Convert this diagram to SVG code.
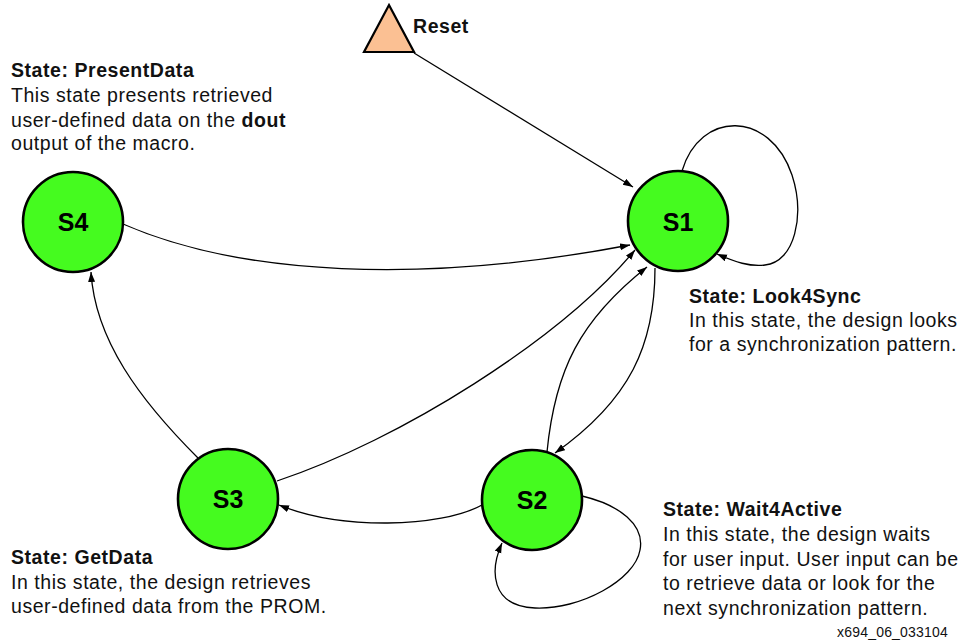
<svg xmlns="http://www.w3.org/2000/svg" width="965" height="643" viewBox="0 0 965 643">
  <style>
    .state { fill: #45fb1f; stroke: #000; stroke-width: 2.6; }
    .label { font-family: "Liberation Sans", Arial, sans-serif; font-weight: bold; font-size: 25px; fill: #000; text-anchor: middle; }
    .edge { fill: none; stroke: #000; stroke-width: 1.3; marker-end: url(#arrow); }
    .edge-plain { fill: none; stroke: #000; stroke-width: 1.3; }
    .note { font-family: "Liberation Sans", Arial, sans-serif; font-size: 19.5px; letter-spacing: 0.55px; fill: #111; }
    .note .title, .bold { font-weight: bold; }
    .tag { font-family: "Liberation Sans", Arial, sans-serif; font-size: 14px; letter-spacing: 0.2px; fill: #111; }
  </style>
  <defs>
    <marker id="arrow" markerUnits="userSpaceOnUse" markerWidth="11" markerHeight="8" refX="10" refY="3.5" orient="auto">
      <path d="M0,0 L10,3.5 L0,7 z" fill="#000"/>
    </marker>
  </defs>

  <rect width="965" height="643" fill="#fff"/>

  <!-- transitions -->
  <g id="connectors">
    <!-- Reset to S1 -->
    <path class="edge" d="M414,53 L633,187"/>
    <!-- S1 self loop -->
    <path class="edge" d="M682,171 C700,110 770,110 792,175 C805,215 795,262 765,265 C750,267 735,262 717,254"/>
    <!-- S4 to S1 -->
    <path class="edge" d="M123,224 C240,275 420,285 630,245"/>
    <!-- S3 to S1 -->
    <path class="edge" d="M277,481 C400,440 560,340 635,250"/>
    <!-- S2 to S1 -->
    <path class="edge" d="M547,452 C555,370 580,320 647,267"/>
    <!-- S1 to S2 -->
    <path class="edge" d="M655,268 C655,345 630,400 555,453"/>
    <!-- S2 to S3 -->
    <path class="edge" d="M482,505 C440,528 340,530 279,505"/>
    <!-- S3 to S4 -->
    <path class="edge" d="M198,458 C140,400 95,340 91,272"/>
    <!-- S2 self loop -->
    <path class="edge" d="M582,496 C620,505 645,525 640,550 C635,580 580,610 535,608 C490,606 490,570 502,543"/>
  </g>

  <!-- reset entry -->
  <g id="reset">
    <polygon points="389,5 414,52 364,52" fill="#fbc093" stroke="#000" stroke-width="2.2" stroke-linejoin="miter"/>
    <text x="413" y="33" class="note title" font-weight="bold">Reset</text>
  </g>

  <g id="S1">
    <circle class="state" cx="678" cy="221" r="50"/>
    <text class="label" x="678" y="231">S1</text>
  </g>
  <g id="S2">
    <circle class="state" cx="532" cy="500" r="50"/>
    <text class="label" x="532" y="509">S2</text>
  </g>
  <g id="S3">
    <circle class="state" cx="228" cy="499" r="50"/>
    <text class="label" x="228" y="508">S3</text>
  </g>
  <g id="S4">
    <circle class="state" cx="73" cy="222" r="50"/>
    <text class="label" x="73" y="231">S4</text>
  </g>

  <!-- state descriptions -->
  <g id="note-presentdata" class="note">
    <text x="11" y="77" class="bold">State: PresentData</text>
    <text x="11" y="102">This state presents retrieved</text>
    <text x="11" y="127">user-defined data on the <tspan class="bold">dout</tspan></text>
    <text x="11" y="150">output of the macro.</text>
  </g>
  <g id="note-look4sync" class="note">
    <text x="689" y="303" class="bold">State: Look4Sync</text>
    <text x="689" y="327">In this state, the design looks</text>
    <text x="689" y="351">for a synchronization pattern.</text>
  </g>
  <g id="note-wait4active" class="note">
    <text x="663" y="516" class="bold">State: Wait4Active</text>
    <text x="663" y="541">In this state, the design waits</text>
    <text x="663" y="565.5">for user input. User input can be</text>
    <text x="663" y="590">to retrieve data or look for the</text>
    <text x="663" y="614.5">next synchronization pattern.</text>
  </g>
  <g id="note-getdata" class="note">
    <text x="11" y="564" class="bold">State: GetData</text>
    <text x="11" y="589">In this state, the design retrieves</text>
    <text x="11" y="613">user-defined data from the PROM.</text>
  </g>

  <text class="tag" x="837" y="637">x694_06_033104</text>
</svg>
